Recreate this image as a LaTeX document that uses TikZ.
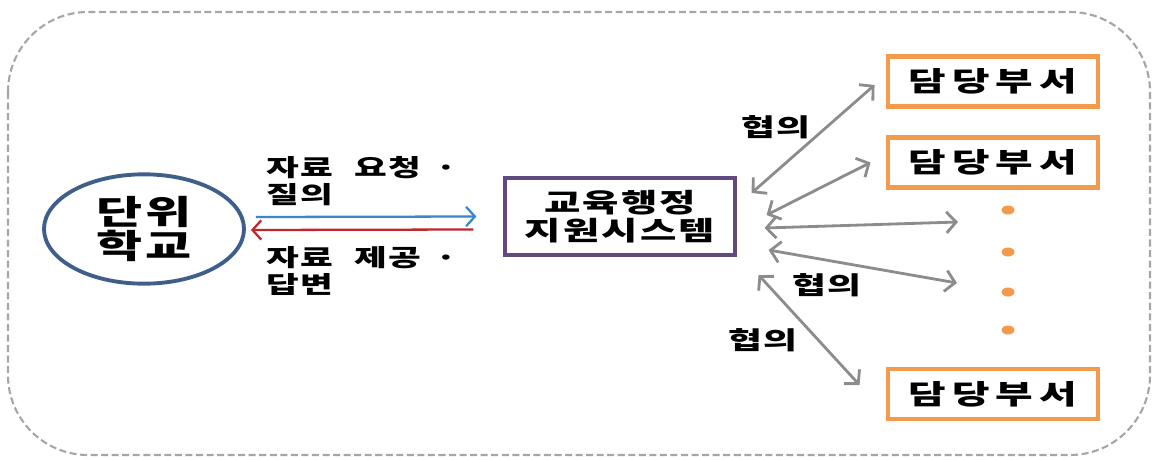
\documentclass[tikz,border=0pt]{standalone}
\usepackage{fontspec}
\setmainfont{Noto Sans CJK KR}[FakeStretch=1.5]
\usetikzlibrary{arrows.meta,shapes.geometric}
\definecolor{schoolblue}{HTML}{3F5F8A}
\definecolor{syspurple}{HTML}{5F4B7D}
\definecolor{deptorange}{HTML}{F39A4C}
\definecolor{linkgray}{HTML}{8C8C8C}
\definecolor{askblue}{HTML}{3A86CC}
\definecolor{answerred}{HTML}{C0262C}

\begin{document}
\begin{tikzpicture}[auto,
    school/.style ={ellipse, draw=schoolblue, line width=2.2pt, minimum width=4.0cm, minimum height=2.0cm, align=center, font=\bfseries\fontsize{19}{19.5}\selectfont\addfontfeature{LetterSpace=8}},
    system/.style ={rectangle, draw=syspurple, line width=1.8pt, minimum width=4.6cm, minimum height=1.54cm, align=center, font=\bfseries\fontsize{15}{16}\selectfont\addfontfeature{LetterSpace=8}},
    dept/.style ={rectangle, draw=deptorange, line width=2.8pt, minimum width=4.2cm, minimum height=1.0cm, font=\bfseries\fontsize{15.5}{16}\selectfont\addfontfeature{LetterSpace=22}},
    note/.style ={align=left, font=\bfseries\fontsize{13.5}{15}\selectfont\addfontfeature{LetterSpace=5}},
    agree/.style ={font=\bfseries\fontsize{14}{15}\selectfont\addfontfeature{LetterSpace=8}},
    link/.style ={linkgray, line width=1.6pt, {Straight Barb[length=5.5pt,width=12pt]}-{Straight Barb[length=5.5pt,width=12pt]}}]
   \useasboundingbox (0,0) rectangle (23.16,-9.18);
   \draw[gray!70, line width=1.2pt, dash pattern=on 4pt off 2pt, rounded corners=1.6cm] (0.16,-0.24) rectangle (23.0,-9.1);

   \node[school] (S)  at (2.88,-4.58)  {단위\\학교};
   \node[system] (E)  at (12.4,-4.33)  {교육행정\\지원시스템};
   \node[dept] (D1)  at (19.86,-1.63)  {담당부서};
   \node[dept] (D2)  at (19.86,-3.25)  {담당부서};
   \node[dept] (D3)  at (19.86,-7.88)  {담당부서};

   \fill[deptorange] (20.16,-4.2) ellipse (0.13 and 0.09);
   \fill[deptorange] (20.16,-5.04) ellipse (0.13 and 0.09);
   \fill[deptorange] (20.16,-5.84) ellipse (0.13 and 0.09);
   \fill[deptorange] (20.16,-6.6) ellipse (0.13 and 0.09);

   \coordinate (M1) at (19.16,-4.44);
   \coordinate (M2) at (19.14,-5.66);

   \node[note, anchor=west] (Q)  at (5.2,-3.62)  {자료\hspace{0.9em}요청\hspace{0.6em}·\\질의};
   \node[note, anchor=west] (R)  at (5.2,-5.42)  {자료\hspace{0.9em}제공\hspace{0.6em}·\\답변};

   \draw[askblue, line width=1.3pt, -{Straight Barb[length=5pt,width=11pt]}] ([xshift=0.2cm,yshift=0.24cm]S.east) to ([xshift=-0.54cm]E.west);
   \draw[answerred, line width=1.3pt, -{Straight Barb[length=5pt,width=11pt]}] ([xshift=-0.6cm,yshift=-0.26cm]E.west) to ([xshift=0.1cm,yshift=-0.02cm]S.east);

   \draw[link] ([xshift=0.3cm,yshift=0.47cm]E.east) to ([xshift=-0.22cm,yshift=-0.07cm]D1.west);
   \draw[link] ([xshift=0.6cm,yshift=0.03cm]E.east) to ([xshift=-0.3cm]D2.west);
   \draw[link] ([xshift=0.56cm,yshift=-0.23cm]E.east) to (M1);
   \draw[link] ([xshift=0.64cm,yshift=-0.67cm]E.east) to (M2);
   \draw[link] ([xshift=0.44cm,yshift=-1.17cm]E.east) to ([xshift=-0.52cm,yshift=0.18cm]D3.west);

   \node[agree] (A1)  at (15.52,-2.54)  {협의};
   \node[agree] (A2)  at (16.54,-5.7)  {협의};
   \node[agree] (A3)  at (15.26,-6.8)  {협의};
 \end{tikzpicture}
\end{document}
